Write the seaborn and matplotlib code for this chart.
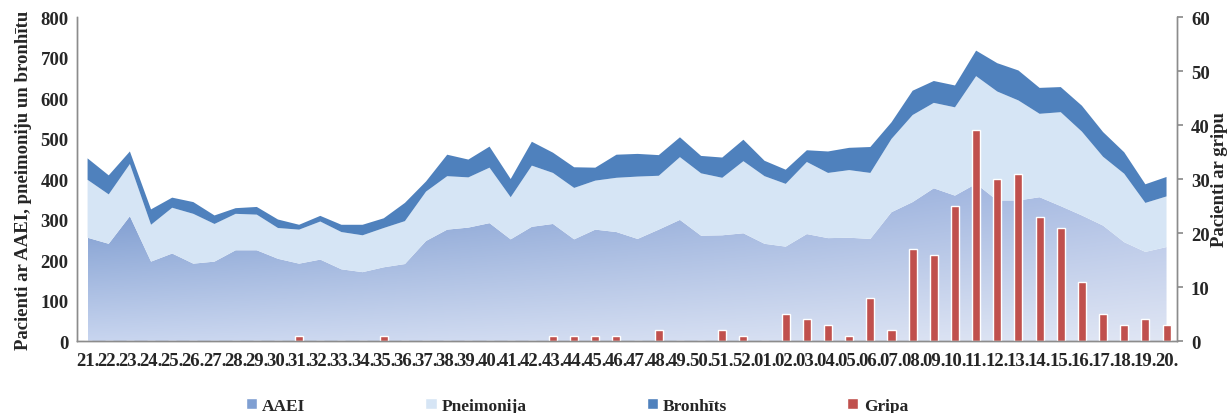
import numpy as np
import matplotlib
matplotlib.use("Agg")
import matplotlib.pyplot as plt
import seaborn as sns
from matplotlib.patches import Patch

# Weeks (21.-52. of one year, 01.-20. of the next)
weeks = [f"{w:02d}." for w in list(range(21, 53)) + list(range(1, 21))]

# Patients per week
aaei = [255, 240, 308, 196, 216, 191, 196, 224, 224, 203, 191, 201, 177, 170, 182, 190,
        247, 275, 280, 291, 251, 282, 289, 251, 275, 269, 252, 275, 299, 260, 261, 266,
        240, 233, 264, 254, 255, 252, 318, 343, 377, 359, 388, 347, 347, 355, 333, 310,
        285, 244, 220, 232]
pneimonija = [143, 122, 129, 91, 113, 123, 93, 90, 88, 76, 84, 94, 92, 91, 97, 106,
              122, 132, 124, 137, 104, 151, 126, 127, 121, 134, 154, 133, 155, 154, 142, 178,
              167, 155, 178, 161, 167, 163, 181, 215, 211, 218, 266, 269, 247, 206, 232, 207,
              170, 169, 121, 125]
bronhits = [53, 47, 31, 38, 25, 29, 21, 14, 19, 21, 12, 14, 18, 26, 24, 45,
            25, 53, 44, 52, 45, 59, 50, 51, 32, 57, 56, 51, 49, 43, 50, 53,
            38, 35, 29, 53, 55, 64, 41, 60, 54, 54, 63, 70, 74, 64, 62, 64,
            61, 53, 46, 48]
gripa = [0, 0, 0, 0, 0, 0, 0, 0, 0, 0, 1, 0, 0, 0, 1, 0,
         0, 0, 0, 0, 0, 0, 1, 1, 1, 1, 0, 2, 0, 0, 2, 1,
         0, 5, 4, 3, 1, 8, 2, 17, 16, 25, 39, 30, 31, 23, 21, 11,
         5, 3, 4, 3]

sns.set_theme(style="white")
plt.rcParams["font.family"] = ["Liberation Serif", "DejaVu Serif"]
plt.rcParams["font.weight"] = "bold"
fs = 13.5

fig = plt.figure(figsize=(12.3, 4.14), dpi=100)
ax = fig.add_axes([0.0626, 0.1739, 0.8944, 0.7826])

x = np.arange(len(weeks))
a = np.array(aaei)
p = a + np.array(pneimonija)
t = p + np.array(bronhits)

# AAEI area with a diagonal blue gradient
poly = ax.fill_between(x, 0, a, facecolor="none", edgecolor="none")
c_tl = np.array([0x66, 0x8a, 0xc6]) / 255
c_bl = np.array([0xc8, 0xd5, 0xef]) / 255
c_tr = np.array([0xa8, 0xbb, 0xe3]) / 255
c_br = np.array([0xe0, 0xe6, 0xf4]) / 255
gy, gx = np.mgrid[0:1:200j, 0:1:200j]
grad = ((1 - gx)[..., None] * ((1 - gy)[..., None] * c_bl + gy[..., None] * c_tl)
        + gx[..., None] * ((1 - gy)[..., None] * c_br + gy[..., None] * c_tr))
im = ax.imshow(grad, extent=[0, len(weeks) - 1, 0, 420], origin="lower",
               aspect="auto", zorder=1)
im.set_clip_path(poly.get_paths()[0], transform=ax.transData)

ax.fill_between(x, a, p, facecolor="#d6e5f5", edgecolor="none", zorder=2)
ax.fill_between(x, p, t, facecolor="#4f81bd", edgecolor="none", zorder=2)

ax.set_xlim(-0.52, len(weeks) - 0.5)
ax.set_ylim(0, 800)
ax.set_yticks(range(0, 801, 100))
ax.set_ylabel("Pacienti ar AAEI, pneimoniju un bronhītu", fontsize=fs, fontweight="bold", labelpad=6)

# Influenza bars on the secondary axis
ax2 = ax.twinx()
sns.barplot(x=weeks, y=gripa, ax=ax2, color="#c0504d", width=0.38, saturation=1)
ax2.set_xlim(ax.get_xlim())
ax2.set_ylim(0, 60)
ax2.set_yticks(range(0, 61, 10))
ax2.set_ylabel("Pacienti ar gripu", fontsize=fs, fontweight="bold", labelpad=1)
ax2.set_xlabel("")

ax.set_xticks(x)
ax.set_xticklabels(weeks)
ax2.set_xticks(x)
ax2.set_xticklabels(weeks)

for axis in (ax, ax2):
    for s in axis.spines.values():
        s.set_color("#8c8c8c")
        s.set_linewidth(1)
    axis.spines["top"].set_visible(False)
    axis.grid(False)
ax.tick_params(axis="y", length=0, pad=6, labelsize=fs)
ax.tick_params(axis="x", length=0, pad=8, labelsize=fs)
ax2.tick_params(axis="y", length=4, color="#8c8c8c", direction="out", pad=6, labelsize=fs)
ax2.tick_params(axis="x", length=0, pad=8, labelsize=fs)
ax.set_zorder(ax2.get_zorder() - 1)
ax2.patch.set_visible(False)

handles = [Patch(facecolor="#7f9fd2"), Patch(facecolor="#d6e5f5"),
           Patch(facecolor="#4f81bd"), Patch(facecolor="#c0504d")]
labels = ["AAEI", "Pneimonija", "Bronhīts", "Gripa"]
fig.legend(handles, labels, loc="center", bbox_to_anchor=(0.469, 0.018), ncol=4,
           frameon=False, handlelength=0.65, handleheight=0.65, handletextpad=0.3,
           columnspacing=6.9, prop={"size": 12.5, "weight": "bold"})

fig.savefig("out.png", dpi=100)
